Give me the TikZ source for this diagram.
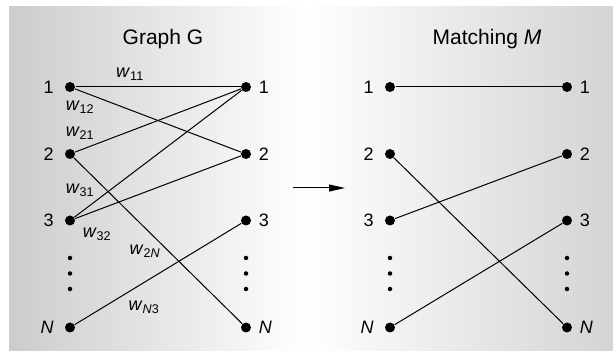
\documentclass[tikz,border=0pt]{standalone}
\usepackage{fontspec}
\setmainfont{Liberation Sans}
\usetikzlibrary{positioning}
\usetikzlibrary{arrows.meta}
\tikzset{vert/.style={circle, fill, inner sep=0pt, minimum size=10pt},
	smalldot/.style={circle, fill, inner sep=0pt, minimum size=4.5pt},
	wlab/.style={inner sep=0pt},
	headline/.style={font=\fontsize{21}{21}\selectfont}}

\begin{document}
\begin{tikzpicture}[x=1pt, y=-1pt, line width=1pt, font=\fontsize{18}{18}\selectfont]

				\useasboundingbox (0,0) rectangle (613,352);
				\shade[left color=black!20, right color=white] (9,7) rectangle (305,351);
				\shade[left color=white, right color=black!17] (305,7) rectangle (613,351);

				\node[headline](gtitle) at (163,39) {Graph G};
				\node[headline](mtitle) at (487,39) {Matching \textit{M}};

				\foreach \i/\y/\t in {1/87/1, 2/154/2, 3/220.5/3, N/327.5/\textit{N}} {
					\node[vert](l\i) at (70,\y) {};
					\node[vert](r\i) at (246,\y) {};
					\node[vert](m\i) at (390,\y) {};
					\node[vert](n\i) at (567,\y) {};
					\node [left= 7pt of l\i] {\t};
					\node [right= 3.5pt of r\i] {\t};
					\node [left= 7pt of m\i] {\t};
					\node [right= 3.5pt of n\i] {\t};
				}
				\foreach \x in {70,246,390,567}
					\foreach \y in {258,273.5,289}
						\node[smalldot] at (\x,\y) {};

				\draw (l1) -- (r1);
				\draw (l1) -- (r2);
				\draw (l2) -- (r1);
				\draw (l2) -- (rN);
				\draw (l3) -- (r1);
				\draw (l3) -- (r2);
				\draw (lN) -- (r3);

				\draw (m1) -- (n1);
				\draw (m2) -- (nN);
				\draw (m3) -- (n2);
				\draw (mN) -- (n3);

				\node[wlab] at (130,74) {\textit{w}\textsubscript{11}};
				\node[wlab] at (80,107) {\textit{w}\textsubscript{12}};
				\node[wlab] at (80,133) {\textit{w}\textsubscript{21}};
				\node[wlab] at (80,190) {\textit{w}\textsubscript{31}};
				\node[wlab] at (97,234) {\textit{w}\textsubscript{32}};
				\node[wlab] at (145,251) {\textit{w}\textsubscript{2\textit{N}}};
				\node[wlab] at (144,307) {\textit{w}\textsubscript{\textit{N}3}};

				\coordinate(astart) at (293,188);
				\coordinate(aend) at (345,188);
				\draw[-{Triangle[length=16pt,width=7pt]}] (astart) -- (aend);
			\end{tikzpicture}
\end{document}
